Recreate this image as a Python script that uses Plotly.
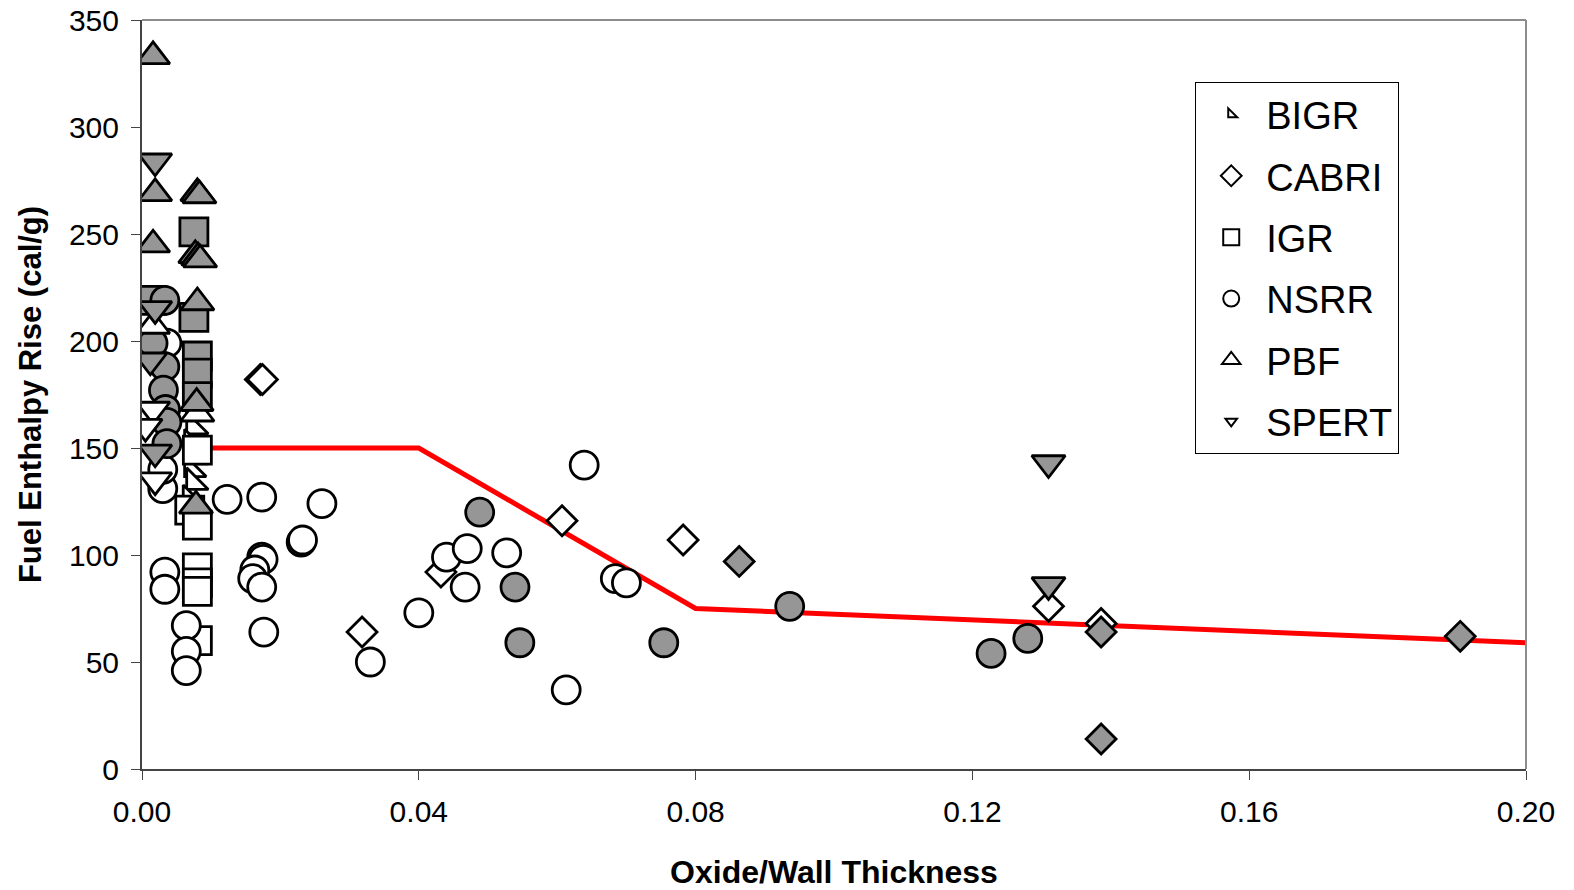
import plotly.graph_objects as go

# ---------------- data ----------------
series_names = ["BIGR", "CABRI", "IGR", "NSRR", "PBF", "SPERT"]

bigr_open_x = [0.0075, 0.0075, 0.0072, 0.0075, 0.0072, 0.0075, 0.0070, 0.0075]
bigr_open_y = [168, 160, 152, 146, 140, 134, 126, 114]

cabri_open_x = [0.0171, 0.0174, 0.0318, 0.0432, 0.0607, 0.0782, 0.131, 0.1386]
cabri_open_y = [182, 182, 64, 92, 116, 107, 76, 68]
cabri_fill_x = [0.0863, 0.1386, 0.1386, 0.1905]
cabri_fill_y = [97, 64, 14, 62]

igr_open_x = [0.008, 0.0069, 0.008, 0.008, 0.008, 0.008, 0.008]
igr_open_y = [149, 121, 114, 94, 87, 83, 60]
igr_fill_x = [0.0014, 0.0075, 0.0075, 0.008, 0.008, 0.008]
igr_fill_y = [219, 251, 211, 193, 185, 174]

nsrr_open_x = [0.0036, 0.0033, 0.0033, 0.0064, 0.0064, 0.0064, 0.003, 0.003, 0.0123,
               0.0173, 0.0173, 0.0175, 0.0163, 0.016, 0.0173, 0.0176, 0.023, 0.0232,
               0.026, 0.033, 0.040, 0.044, 0.047, 0.0467, 0.0527, 0.0613, 0.0639,
               0.0684, 0.070]
nsrr_open_y = [199, 92, 84, 67, 55, 46, 131, 140, 126,
               127, 99, 98, 93, 89, 85, 64, 106, 107,
               124, 50, 73, 99, 103, 85, 101, 37, 142,
               89, 87]
nsrr_fill_x = [0.0033, 0.0016, 0.0033, 0.0031, 0.0034, 0.0036, 0.0036,
               0.0488, 0.0539, 0.0546, 0.0754, 0.0936, 0.1227, 0.128]
nsrr_fill_y = [219, 199, 188, 177, 168, 162, 152,
               120, 85, 59, 59, 76, 54, 61]

pbf_open_x = [0.0016, 0.008]
pbf_open_y = [207, 166]
pbf_fill_x = [0.0016, 0.0019, 0.008, 0.0083, 0.0016, 0.0077, 0.0081, 0.0084, 0.008, 0.0079, 0.0078]
pbf_fill_y = [333, 269, 269, 268, 245, 240, 239, 238, 218, 171, 123]

spert_open_x = [0.0016, 0.0005, 0.0019]
spert_open_y = [168, 160, 135]
spert_fill_x = [0.0019, 0.0019, 0.0012, 0.0019, 0.131, 0.131]
spert_fill_y = [284, 215, 191, 148, 143, 86]

limit_x = [0.008, 0.04, 0.08, 0.20]
limit_y = [150, 150, 75, 59]

x_ticks = [0.00, 0.04, 0.08, 0.12, 0.16, 0.20]
x_tick_labels = ["0.00", "0.04", "0.08", "0.12", "0.16", "0.20"]
y_ticks = [0, 50, 100, 150, 200, 250, 300, 350]

# ---------------- style ----------------
GRAY = "#969696"
FONT = "Arial, 'Liberation Sans', sans-serif"
symbols = {"BIGR": "triangle-sw", "CABRI": "diamond", "IGR": "square",
           "NSRR": "circle", "PBF": "triangle-up", "SPERT": "triangle-down"}
sizes = {"BIGR": 24, "CABRI": 23, "IGR": 28, "NSRR": 28, "PBF": 29, "SPERT": 29}
legend_sizes = {"BIGR": 10, "CABRI": 16, "IGR": 16, "NSRR": 16, "PBF": 16, "SPERT": 10}

data = {
    "BIGR": [(bigr_open_x, bigr_open_y, "white")],
    "CABRI": [(cabri_open_x, cabri_open_y, "white"), (cabri_fill_x, cabri_fill_y, GRAY)],
    "IGR": [(igr_open_x, igr_open_y, "white"), (igr_fill_x, igr_fill_y, GRAY)],
    "NSRR": [(nsrr_open_x, nsrr_open_y, "white"), (nsrr_fill_x, nsrr_fill_y, GRAY)],
    "PBF": [(pbf_open_x, pbf_open_y, "white"), (pbf_fill_x, pbf_fill_y, GRAY)],
    "SPERT": [(spert_open_x, spert_open_y, "white"), (spert_fill_x, spert_fill_y, GRAY)],
}

fig = go.Figure()

fig.add_trace(go.Scatter(x=limit_x, y=limit_y, mode="lines",
                         line=dict(color="#ff0000", width=5), showlegend=False,
                         hoverinfo="skip"))

for name in series_names:
    for xs, ys, col in data[name]:
        fig.add_trace(go.Scatter(
            x=xs, y=ys, mode="markers", showlegend=False, legendgroup=name,
            marker=dict(symbol=symbols[name], size=sizes[name], color=col,
                        line=dict(color="black", width=2.8)),
            name=name))

# legend entries
for name in series_names:
    fig.add_trace(go.Scatter(
        x=[None], y=[None], mode="markers", name=name, legendgroup=name,
        marker=dict(symbol=symbols[name], size=legend_sizes[name], color="white",
                    line=dict(color="black", width=2))))

fig.update_layout(
    width=1574, height=890,
    margin=dict(l=142, r=48, t=20, b=121),
    paper_bgcolor="white", plot_bgcolor="white",
    font=dict(family=FONT, color="black"),
    showlegend=True,
    legend=dict(x=0.761, y=0.917, xanchor="left", yanchor="top",
                bordercolor="black", borderwidth=1, bgcolor="white",
                font=dict(size=38, family=FONT), tracegroupgap=9,
                itemsizing="trace", itemwidth=60, traceorder="grouped"),
    xaxis=dict(range=[0, 0.20], tickvals=x_ticks, ticktext=x_tick_labels,
               automargin=False, ticklabeloverflow="allow",
               showgrid=False, zeroline=False, showline=True, linecolor="#444444",
               linewidth=2, ticks="outside", ticklen=9, tickcolor="#444444",
               ticklabelstandoff=6,
               tickfont=dict(size=30, family=FONT),
               title=dict(text="<b>Oxide/Wall Thickness</b>", font=dict(size=32, family=FONT),
                          standoff=36)),
    yaxis=dict(range=[0, 350], tickvals=y_ticks, showgrid=False, zeroline=False,
               automargin=False, ticklabeloverflow="allow",
               showline=True, linecolor="#444444", linewidth=2, ticks="outside",
               ticklen=9, tickcolor="#444444", ticklabelstandoff=6,
               tickfont=dict(size=30, family=FONT),
               title=dict(text="<b>Fuel Enthalpy Rise (cal/g)</b>", font=dict(size=31, family=FONT),
                          standoff=18)),
    shapes=[dict(type="line", xref="paper", yref="paper", x0=0, x1=1, y0=1, y1=1,
                 line=dict(color="#8c8c8c", width=2)),
            dict(type="line", xref="paper", yref="paper", x0=1, x1=1, y0=0, y1=1,
                 line=dict(color="#8c8c8c", width=2))],
)

# remove the default 8px page margin so the figure fills the window exactly
fig.write_html("out.html",
               config={"displayModeBar": False},
               post_script="document.body.style.margin='0';document.body.style.overflow='hidden';")
